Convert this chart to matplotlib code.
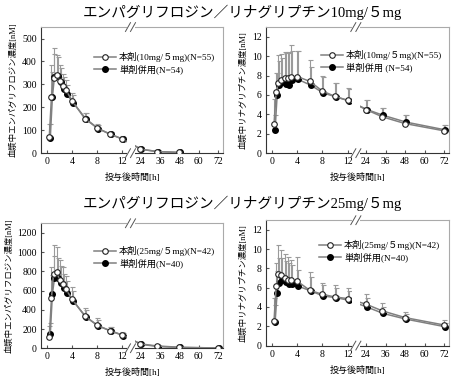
import numpy as np
import matplotlib
matplotlib.use("Agg")
import matplotlib.pyplot as plt
from matplotlib.patches import Rectangle
import matplotlib.transforms as mtransforms

plt.rcParams['font.family'] = ['Liberation Serif', 'Noto Sans CJK JP', 'DejaVu Sans']

# sampling times [h]
times = [0.33, 0.67, 1, 1.5, 2, 2.5, 3, 4, 6, 8, 10, 12, 24, 34, 48, 72]
xtick_vals = [0, 4, 8, 12, 24, 36, 48, 60, 72]

# empagliflozin 10mg/5mg (no 72 h value)
empa10_fdc = [70, 245, 328, 342, 315, 291, 275, 227, 151, 109, 83, 62, 17, 7, 3, np.nan]
empa10_fdc_sd = [58, 140, 131, 88, 70, 56, 46, 37, 26, 18, 10, 11, 9, 5, 3, np.nan]
empa10_free = [68, 245, 333, 338, 309, 280, 256, 220, 150, 107, 82, 60, 17, 7, 3, np.nan]
empa10_free_sd = [60, 110, 100, 82, 62, 50, 42, 33, 24, 16, 10, 9, 8, 4, 2, np.nan]

# linagliptin 10mg/5mg
lina10_fdc = [3.05, 6.3, 7.2, 7.55, 7.7, 7.7, 7.8, 7.9, 7.4, 6.4, 5.85, 5.45, 4.5, 3.75, 3.05, 2.3]
lina10_fdc_sd = [2.5, 2.0, 2.9, 2.65, 2.7, 2.7, 3.3, 2.6, 2.2, 1.6, 1.35, 1.25, 1.0, 0.95, 0.85, 0.6]
lina10_free = [2.35, 6.0, 7.0, 7.3, 7.1, 7.0, 7.5, 7.6, 7.0, 6.2, 5.8, 5.4, 4.5, 3.9, 3.2, 2.4]
lina10_free_sd = [1.6, 2.3, 2.5, 2.5, 3.2, 3.3, 3.0, 2.9, 1.9, 1.6, 1.4, 1.2, 1.0, 0.8, 0.7, 0.5]

# empagliflozin 25mg/5mg
empa25_fdc = [122, 519, 775, 790, 708, 664, 612, 508, 335, 238, 183, 138, 45, 24, 10, 2]
empa25_fdc_sd = [110, 330, 297, 258, 208, 176, 138, 125, 80, 80, 42, 35, 15, 8, 5, 3]
empa25_free = [148, 563, 726, 728, 675, 622, 577, 491, 328, 232, 180, 131, 40, 18, 8, 3]
empa25_free_sd = [115, 200, 235, 206, 180, 150, 120, 100, 70, 60, 40, 30, 12, 7, 4, 2]

# linagliptin 25mg/5mg
lina25_fdc = [2.57, 6.2, 7.45, 7.27, 6.96, 6.75, 6.75, 6.68, 5.73, 5.31, 5.04, 4.87, 4.3, 3.6, 2.9, 2.13]
lina25_fdc_sd = [2.4, 2.4, 2.95, 2.65, 2.55, 2.45, 2.15, 2.5, 1.85, 1.2, 1.25, 1.15, 1.0, 0.8, 0.6, 0.5]
lina25_free = [2.4, 5.5, 6.5, 6.75, 6.6, 6.4, 6.35, 6.17, 5.66, 5.14, 4.97, 4.7, 4.0, 3.33, 2.74, 1.95]
lina25_free_sd = [1.8, 2.2, 2.6, 2.3, 2.2, 2.2, 2.0, 1.7, 1.4, 1.1, 1.0, 1.0, 0.9, 0.7, 0.5, 0.4]


def xpos(t):
    # broken time axis: 0-12 h linear, 24-72 h compressed
    t = np.asarray(t, dtype=float)
    return np.where(t <= 12, t, 14.9 + (t - 24) * 0.259)


def draw(ax, fdc, fdc_sd, free, free_sd, ylim, yticks, ylabel, labels, anchor):
    x = xpos(times)
    x_free = x + 0.15
    for xs, m, sd in ((x_free, free, free_sd), (x, fdc, fdc_sd)):
        m = np.array(m, dtype=float)
        sd = np.array(sd, dtype=float)
        ax.errorbar(xs, m, yerr=[np.zeros_like(sd), sd], fmt='none',
                    ecolor='#9a9a9a', elinewidth=0.8, capsize=1.8, capthick=0.8, zorder=1)
    h_free, = ax.plot(x_free, free, color='#808080', lw=1.1, marker='o', ms=4,
                      mfc='black', mec='black', zorder=2)
    h_fdc, = ax.plot(x, fdc, color='#808080', lw=1.1, marker='o', ms=4,
                     mfc='white', mec='#222222', mew=0.8, zorder=3)
    ax.legend([h_fdc, h_free], labels, loc='upper left', bbox_to_anchor=anchor,
              frameon=False, fontsize=6.7, handlelength=2.4, handletextpad=0.3,
              labelspacing=0.25, borderaxespad=0)

    ax.set_xlim(-1.0, 28.1)
    ax.set_ylim(*ylim)
    ax.set_yticks(yticks)
    ax.set_xticks(xpos(xtick_vals))
    ax.set_xticklabels([str(v) for v in xtick_vals])
    ax.tick_params(direction='in', length=2, labelsize=7, pad=3, color='#555555')
    for s in ('top', 'right'):
        ax.spines[s].set_color('#aaaaaa')
    for s in ('left', 'bottom'):
        ax.spines[s].set_color('#333333')
    for s in ax.spines.values():
        s.set_linewidth(0.8)
    ax.set_ylabel(ylabel, fontsize=6, labelpad=3)
    ax.set_xlabel('投与後時間[h]', fontsize=6.5, labelpad=5)

    # axis break
    trans = mtransforms.blended_transform_factory(ax.transData, ax.transAxes)
    ax.add_patch(Rectangle((12.75, -0.02), 1.2, 1.04, transform=trans,
                           facecolor='white', edgecolor='none', clip_on=False, zorder=4))
    for xb in (12.9, 13.7):
        for yb in (0.0, 1.0):
            ax.plot([xb - 0.4, xb + 0.4], [yb - 0.035, yb + 0.035], transform=trans,
                    color='#555555', lw=0.7, clip_on=False, zorder=5)


fig = plt.figure(figsize=(4.53, 3.81), dpi=100)
ax1 = fig.add_axes([0.0905, 0.598, 0.402, 0.331])
ax2 = fig.add_axes([0.5865, 0.598, 0.405, 0.331])
ax3 = fig.add_axes([0.0905, 0.086, 0.402, 0.328])
ax4 = fig.add_axes([0.5865, 0.093, 0.405, 0.329])

draw(ax1, empa10_fdc, empa10_fdc_sd, empa10_free, empa10_free_sd, (0, 550),
     range(0, 501, 100), '血漿中エンパグリフロジン濃度[nM]',
     ['本剤(10mg/５mg)(N=55)', '単剤併用(N=54)'], (0.27, 0.83))
draw(ax2, lina10_fdc, lina10_fdc_sd, lina10_free, lina10_free_sd, (0, 13),
     range(0, 13, 2), '血漿中リナグリプチン濃度[nM]',
     ['本剤(10mg/５mg)(N=55)', '単剤併用 (N=54)'], (0.28, 0.85))
draw(ax3, empa25_fdc, empa25_fdc_sd, empa25_free, empa25_free_sd, (0, 1300),
     range(0, 1201, 200), '血漿中エンパグリフロジン濃度[nM]',
     ['本剤(25mg/５mg)(N=42)', '単剤併用(N=40)'], (0.27, 0.85))
draw(ax4, lina25_fdc, lina25_fdc_sd, lina25_free, lina25_free_sd, (0, 13),
     range(0, 13, 2), '血漿中リナグリプチン濃度[nM]',
     ['本剤(25mg/５mg)(N=42)', '単剤併用(N=40)'], (0.27, 0.87))

fig.text(0.535, 0.968, 'エンパグリフロジン／リナグリプチン10mg/５mg', ha='center', va='center', fontsize=10.5)
fig.text(0.535, 0.467, 'エンパグリフロジン／リナグリプチン25mg/５mg', ha='center', va='center', fontsize=10.5)

fig.savefig('out.png', dpi=100)
